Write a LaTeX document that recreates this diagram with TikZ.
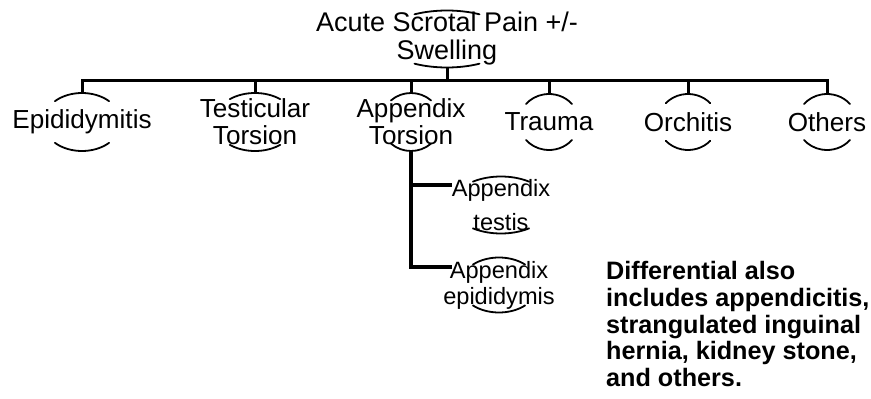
\documentclass[tikz,border=0pt]{standalone}
\usepackage{fontspec}
\setmainfont{Liberation Sans}
\usetikzlibrary{positioning}

\begin{document}
\begin{tikzpicture}[x=1pt,y=-1pt,
  lbl/.style={align=center,inner sep=0pt,font=\fontsize{26.1}{27}\selectfont},
  sub/.style={align=center,inner sep=0pt},
  link/.style={line width=3pt},
  trunk/.style={line width=3.6pt},
  rim/.style={line width=1.8pt,line cap=round}
]
\useasboundingbox (0,0) rectangle (871,399);
\node[inner sep=0pt,align=center,font=\fontsize{27}{28}\selectfont] (root) at (447,39) {Acute Scrotal Pain +/-\\Swelling};
\node[lbl] (epi) at (82,122) {Epididymitis};
\node[lbl] (tes) at (255,122) {Testicular\\Torsion};
\node[lbl] (app) at (411,122) {Appendix\\Torsion};
\node[lbl] (tra) at (549,122) {Trauma};
\node[lbl] (orc) at (688,122) {Orchitis};
\node[lbl] (oth) at (827,122) {Others};
\node[sub,font=\fontsize{23.6}{34}\selectfont] (apt) at (501,205) {Appendix\\testis};
\node[sub,font=\fontsize{23.6}{26}\selectfont] (ape) at (499,285) {Appendix\\epididymis};
\node[anchor=west,align=left,inner sep=0pt,font=\fontsize{25.2}{26.8}\selectfont\bfseries] (note) at (606,324) {Differential also\\includes appendicitis,\\strangulated inguinal\\hernia, kidney stone,\\and others.};

\foreach \n/\rx/\ry/\a in {root/65/28.5/60, epi/39/29/46, tes/41/29/52, app/30/29/48, tra/30/28/40, orc/30/28/42, oth/30/28/40, apt/49/28.5/55, ape/39/27.5/48}{
  \draw[rim] ([shift={(\a:\rx pt and \ry pt)}]\n.center) arc[start angle=\a,end angle=180-\a,x radius=\rx pt,y radius=\ry pt];
  \draw[rim] ([shift={(-\a:\rx pt and \ry pt)}]\n.center) arc[start angle=-\a,end angle=-180+\a,x radius=\rx pt,y radius=\ry pt];
}

\coordinate (bar) at (446,80);
\draw[link] ([yshift=-28.5pt]root.center) -- (root.center |- bar);
\draw[link] ([yshift=29pt]epi.center) |- (bar) -| ([yshift=28pt]oth.center);
\foreach \n/\ry in {tes/29,app/29,tra/28,orc/28}
  \draw[link] (\n.center |- bar) -- ([yshift=\ry pt]\n.center);
\path ([yshift=18pt]ape.center) coordinate (ey);
\draw[trunk] ([yshift=-29pt]app.center) |- ([yshift=20pt]apt.west);
\draw[trunk] ([yshift=-29pt]app.center) |- (apt.west |- ey);
\end{tikzpicture}
\end{document}
